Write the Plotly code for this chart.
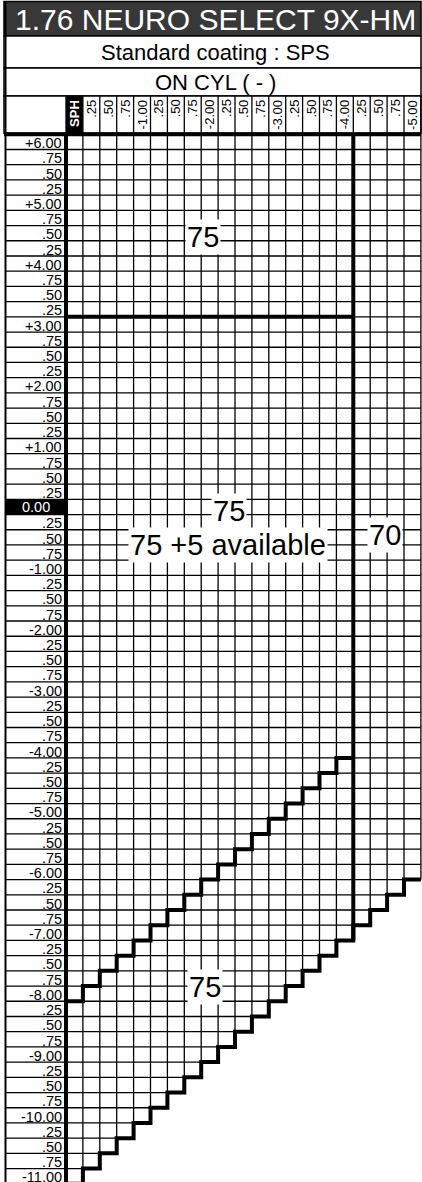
import plotly.graph_objects as go

# ---------------- data ----------------
TITLE = "1.76 NEURO SELECT 9X-HM"
COATING = "Standard coating : SPS"
CYL_HEADER = "ON CYL ( - )"

CYL_VALUES = [0.00, -0.25, -0.50, -0.75, -1.00, -1.25, -1.50, -1.75, -2.00, -2.25, -2.50,
              -2.75, -3.00, -3.25, -3.50, -3.75, -4.00, -4.25, -4.50, -4.75, -5.00]
CYL_LABELS = ["SPH", ".25", ".50", ".75", "-1.00", ".25", ".50", ".75", "-2.00", ".25", ".50",
              ".75", "-3.00", ".25", ".50", ".75", "-4.00", ".25", ".50", ".75", "-5.00"]

SPH_VALUES = [6.00, 5.75, 5.50, 5.25, 5.00, 4.75, 4.50, 4.25, 4.00, 3.75, 3.50, 3.25,
              3.00, 2.75, 2.50, 2.25, 2.00, 1.75, 1.50, 1.25, 1.00, 0.75, 0.50, 0.25,
              0.00, -0.25, -0.50, -0.75, -1.00, -1.25, -1.50, -1.75, -2.00, -2.25, -2.50,
              -2.75, -3.00, -3.25, -3.50, -3.75, -4.00, -4.25, -4.50, -4.75, -5.00, -5.25,
              -5.50, -5.75, -6.00, -6.25, -6.50, -6.75, -7.00, -7.25, -7.50, -7.75, -8.00,
              -8.25, -8.50, -8.75, -9.00, -9.25, -9.50, -9.75, -10.00, -10.25, -10.50,
              -10.75, -11.00]
SPH_LABELS = ["+6.00", ".75", ".50", ".25", "+5.00", ".75", ".50", ".25", "+4.00", ".75", ".50", ".25",
              "+3.00", ".75", ".50", ".25", "+2.00", ".75", ".50", ".25", "+1.00", ".75", ".50", ".25",
              "0.00", ".25", ".50", ".75", "-1.00", ".25", ".50", ".75", "-2.00", ".25", ".50", ".75",
              "-3.00", ".25", ".50", ".75", "-4.00", ".25", ".50", ".75", "-5.00", ".25", ".50", ".75",
              "-6.00", ".25", ".50", ".75", "-7.00", ".25", ".50", ".75", "-8.00", ".25", ".50", ".75",
              "-9.00", ".25", ".50", ".75", "-10.00", ".25", ".50", ".75", "-11.00"]
HIGHLIGHT_SPH = 0.00

# zone definitions
MAIN_ZONE_LAST_CYL = -4.00      # columns 0.00 .. -4.00 form the main zone
TOP_ZONE_MIN_SPH = 3.25         # top block: +6.00 .. +3.25
LOWER_ZONE_MAX_SUM = -8.25      # sph + cyl <= this -> lower block (main zone)
RANGE_MIN_SUM = -11.00          # sph + cyl >= this -> available

ZONE_TEXTS = ["75", "75", "75 +5 available", "70", "75"]

# ---------------- layout constants ----------------
W, H = 422, 1182
GRID_LEFT_PX = 66.0
GRID_TOP_PX = 134.3
COL_W_PX = 16.9
ROW_H_PX = 15.21
LABEL_LEFT_PX = 5.5
FRAME_LEFT_PX = 4.0
FRAME_RIGHT_PX = 421.0
HEAD_ROWS_PX = [1.5, 36.0, 68.0, 96.0]
FONT = "Liberation Sans, Arial, Helvetica, sans-serif"
ZONE_POS = [(-1.90, 4.44), (-2.29, -0.07), (-2.27, -0.63), (-4.59, -0.46), (-1.93, -7.89)]

STEP = abs(SPH_VALUES[0] - SPH_VALUES[1])
HALF = STEP / 2
SPH_TOP = SPH_VALUES[0]
CYL_FIRST = CYL_VALUES[0]


def x_from_px(px):
    return CYL_FIRST - STEP * ((px - GRID_LEFT_PX) / COL_W_PX - 0.5)


def y_from_py(py):
    return SPH_TOP - STEP * ((py - GRID_TOP_PX) / ROW_H_PX - 0.5)


def pxp(px):
    return px / W


def pyp(py):
    return 1 - py / H


def avail_bottom(c):
    return min(s for s in SPH_VALUES if s + c >= RANGE_MIN_SUM - 1e-9) - HALF


fig = go.Figure()

# ---------- thin grid ----------
gx, gy = [], []
boundaries = [s + HALF for s in SPH_VALUES] + [SPH_VALUES[-1] - HALF]
grid_left = CYL_VALUES[0] + HALF
for b in boundaries:
    cols = [c for c in CYL_VALUES if avail_bottom(c) <= b + 1e-9]
    if not cols:
        continue
    gx += [grid_left, min(cols) - HALF, None]
    gy += [b, b, None]
head_top_y = y_from_py(HEAD_ROWS_PX[3])
for i, c in enumerate(CYL_VALUES):
    left = c + HALF
    bottom = avail_bottom(CYL_VALUES[i - 1]) if i > 0 else avail_bottom(c)
    gx += [left, left, None]
    gy += [head_top_y, bottom, None]
last = CYL_VALUES[-1]
gx += [last - HALF, last - HALF, None]
gy += [head_top_y, avail_bottom(last), None]

# label column lines
lab_left_x = x_from_px(LABEL_LEFT_PX)
for b in boundaries:
    gx += [lab_left_x, grid_left, None]
    gy += [b, b, None]

fig.add_trace(go.Scatter(x=gx, y=gy, mode="lines", line=dict(color="black", width=1.3),
                         hoverinfo="skip", showlegend=False))

# ---------- thick lines ----------
tx, ty = [], []
# grid left border
tx += [grid_left, grid_left, None]
ty += [SPH_TOP + HALF, y_from_py(H + 5), None]
# header bottom line
tx += [x_from_px(FRAME_LEFT_PX), x_from_px(FRAME_RIGHT_PX), None]
ty += [SPH_TOP + HALF, SPH_TOP + HALF, None]
# top zone bottom
tx += [grid_left, MAIN_ZONE_LAST_CYL - HALF, None]
ty += [TOP_ZONE_MIN_SPH - HALF, TOP_ZONE_MIN_SPH - HALF, None]
# main zone split
tx += [MAIN_ZONE_LAST_CYL - HALF, MAIN_ZONE_LAST_CYL - HALF, None]
ty += [SPH_TOP + HALF, avail_bottom(MAIN_ZONE_LAST_CYL), None]
# upper staircase (lower block of main zone)
for c in [c for c in CYL_VALUES if c >= MAIN_ZONE_LAST_CYL - 1e-9]:
    yb = LOWER_ZONE_MAX_SUM - c + HALF
    tx += [c + HALF, c - HALF]
    ty += [yb, yb]
tx += [None]
ty += [None]
# lower staircase (range limit)
for c in CYL_VALUES:
    yb = avail_bottom(c)
    tx += [c + HALF, c - HALF]
    ty += [yb, yb]
tx += [None]
ty += [None]
fig.add_trace(go.Scatter(x=tx, y=ty, mode="lines", line=dict(color="black", width=4),
                         hoverinfo="skip", showlegend=False))
# label column left border
fig.add_trace(go.Scatter(x=[lab_left_x, lab_left_x], y=[y_from_py(HEAD_ROWS_PX[0]), y_from_py(H + 5)],
                         mode="lines", line=dict(color="black", width=2),
                         hoverinfo="skip", showlegend=False))

shapes = []
# header boxes
shapes.append(dict(type="rect", xref="paper", yref="paper", x0=pxp(FRAME_LEFT_PX), x1=pxp(FRAME_RIGHT_PX),
                   y0=pyp(HEAD_ROWS_PX[0]), y1=pyp(HEAD_ROWS_PX[1]), fillcolor="#383838",
                   line=dict(color="black", width=1.5), layer="below"))
for a, b in [(HEAD_ROWS_PX[1], HEAD_ROWS_PX[2]), (HEAD_ROWS_PX[2], HEAD_ROWS_PX[3]),
             (HEAD_ROWS_PX[3], GRID_TOP_PX - 1)]:
    shapes.append(dict(type="rect", xref="paper", yref="paper", x0=pxp(FRAME_LEFT_PX), x1=pxp(FRAME_RIGHT_PX),
                       y0=pyp(a), y1=pyp(b), fillcolor="white",
                       line=dict(color="black", width=1.5), layer="below"))
# SPH header cell
shapes.append(dict(type="rect", xref="x", yref="y", x0=CYL_VALUES[0] + HALF, x1=CYL_VALUES[0] - HALF,
                   y0=head_top_y, y1=SPH_TOP + HALF, fillcolor="black", line=dict(width=0), layer="below"))
# zero row label highlight
shapes.append(dict(type="rect", xref="x", yref="y", x0=lab_left_x, x1=grid_left,
                   y0=HIGHLIGHT_SPH - HALF, y1=HIGHLIGHT_SPH + HALF, fillcolor="black",
                   line=dict(width=0), layer="below"))

ann = []
ann.append(dict(text=TITLE, xref="paper", yref="paper", x=pxp(216), y=pyp(19), showarrow=False,
                font=dict(family=FONT, size=30, color="white"), xanchor="center", yanchor="middle"))
ann.append(dict(text=COATING, xref="paper", yref="paper", x=pxp(215), y=pyp(52), showarrow=False,
                font=dict(family=FONT, size=22, color="black"), xanchor="center", yanchor="middle"))
ann.append(dict(text=CYL_HEADER, xref="paper", yref="paper", x=pxp(215), y=pyp(82.5), showarrow=False,
                font=dict(family=FONT, size=22, color="black"), xanchor="center", yanchor="middle"))
for i, (c, lab) in enumerate(zip(CYL_VALUES, CYL_LABELS)):
    if i == 0:
        ann.append(dict(text="<b>" + lab + "</b>", xref="x", yref="paper", x=c, y=pyp(113.5), textangle=-90,
                        showarrow=False, font=dict(family=FONT, size=13, color="white"),
                        xanchor="center", yanchor="middle"))
    else:
        ann.append(dict(text=lab, xref="x", yref="paper", x=c, y=pyp(97.5), textangle=-90,
                        showarrow=False, font=dict(family=FONT, size=13, color="black"),
                        xanchor="center", yanchor="top"))
for s, lab in zip(SPH_VALUES, SPH_LABELS):
    if abs(s - HIGHLIGHT_SPH) < 1e-9:
        ann.append(dict(text=lab, xref="paper", yref="y", x=pxp((LABEL_LEFT_PX + GRID_LEFT_PX) / 2), y=s,
                        showarrow=False, font=dict(family=FONT, size=14.5, color="white"),
                        xanchor="center", yanchor="middle"))
    else:
        ann.append(dict(text=lab, xref="paper", yref="y", x=pxp(63.5), y=s - 0.02,
                        showarrow=False, font=dict(family=FONT, size=14.5, color="black"),
                        xanchor="right", yanchor="middle"))
for t, (cx, cy) in zip(ZONE_TEXTS, ZONE_POS):
    ann.append(dict(text=t, xref="x", yref="y", x=cx, y=cy, showarrow=False, bgcolor="white", borderpad=1,
                    font=dict(family=FONT, size=29, color="black"), xanchor="center", yanchor="middle"))

fig.update_layout(
    width=W, height=H, margin=dict(l=0, r=0, t=0, b=0, pad=0),
    paper_bgcolor="white", plot_bgcolor="white",
    xaxis=dict(range=[x_from_px(0), x_from_px(W)], visible=False, fixedrange=True),
    yaxis=dict(range=[y_from_py(H), y_from_py(0)], visible=False, fixedrange=True),
    shapes=shapes, annotations=ann, showlegend=False,
)

fig.write_html("out.html", config={"displayModeBar": False, "staticPlot": True},
               post_script="document.body.style.margin='0px';")
